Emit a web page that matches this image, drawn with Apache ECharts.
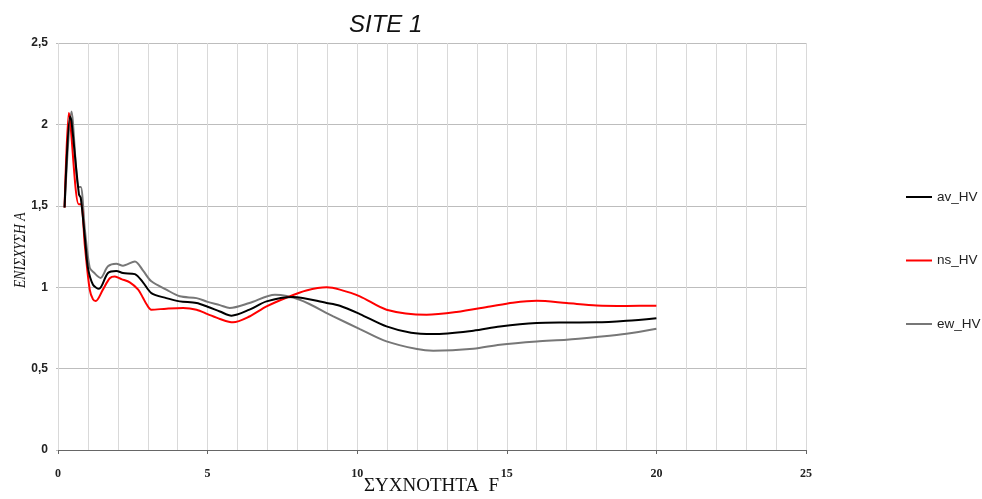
<!DOCTYPE html>
<html>
<head>
<meta charset="utf-8">
<script src="https://cdn.jsdelivr.net/npm/echarts@6/dist/echarts.min.js"></script>
<style>
  html, body { margin: 0; padding: 0; background: #fff; }
  #chart { width: 982px; height: 499px; }
</style>
</head>
<body>
<div id="chart"></div>
<script>
// H/V spectral ratio curves, frequency (Hz) vs amplification
const avFreq = [0.22, 0.40, 0.45, 0.70, 0.76, 0.90, 1.00, 1.17, 1.37, 1.67, 1.95, 2.17, 2.57, 2.84, 3.12, 3.62, 4.07, 4.63, 5.00, 5.41, 5.80, 6.40, 6.97, 7.86, 8.98, 9.42, 10.09, 10.98, 11.80, 12.54, 13.88, 14.77, 16.00, 17.00, 18.00, 19.00, 20.00];
const avVal  = [1.49, 2.05, 2.02, 1.57, 1.55, 1.30, 1.12, 1.015, 0.99, 1.087, 1.10, 1.087, 1.08, 1.03, 0.964, 0.933, 0.913, 0.903, 0.88, 0.851, 0.825, 0.862, 0.913, 0.94, 0.903, 0.886, 0.835, 0.759, 0.72, 0.712, 0.733, 0.759, 0.78, 0.783, 0.784, 0.794, 0.81];

const nsFreq = [0.22, 0.36, 0.40, 0.69, 0.77, 0.90, 1.06, 1.17, 1.26, 1.50, 1.73, 1.90, 2.12, 2.40, 2.68, 2.84, 2.96, 3.12, 3.62, 4.18, 4.63, 5.00, 5.41, 5.85, 6.40, 6.97, 7.69, 8.30, 8.98, 9.42, 10.09, 10.98, 12.32, 13.32, 14.44, 15.20, 16.00, 17.00, 18.00, 19.00, 20.00];
const nsVal  = [1.49, 2.07, 2.03, 1.51, 1.51, 1.25, 0.985, 0.925, 0.915, 0.985, 1.055, 1.066, 1.05, 1.03, 0.985, 0.935, 0.895, 0.862, 0.868, 0.872, 0.862, 0.835, 0.805, 0.784, 0.82, 0.882, 0.94, 0.98, 0.999, 0.985, 0.944, 0.862, 0.831, 0.848, 0.882, 0.905, 0.917, 0.903, 0.888, 0.885, 0.886];

const ewFreq = [0.22, 0.45, 0.69, 0.76, 0.90, 1.06, 1.20, 1.42, 1.67, 1.95, 2.17, 2.57, 2.85, 3.12, 3.62, 4.07, 4.63, 5.00, 5.41, 5.74, 6.40, 7.25, 8.08, 9.20, 10.09, 10.98, 12.00, 12.54, 13.88, 14.77, 16.00, 17.00, 18.00, 19.00, 20.00];
const ewVal  = [1.49, 2.08, 1.615, 1.615, 1.35, 1.12, 1.09, 1.057, 1.128, 1.144, 1.132, 1.158, 1.10, 1.036, 0.985, 0.944, 0.933, 0.91, 0.89, 0.872, 0.903, 0.954, 0.923, 0.821, 0.743, 0.667, 0.62, 0.61, 0.622, 0.647, 0.667, 0.677, 0.694, 0.714, 0.745];

const seriesNames = ['av_HV', 'ns_HV', 'ew_HV'];
const seriesColors = ['#000000', '#ff0000', '#777777'];

const xTicks = [0, 5, 10, 15, 20, 25];
const yTicks = ['0', '0,5', '1', '1,5', '2', '2,5'];

const titleText = 'SITE 1';
const xName = 'ΣΥΧΝΟΤΗΤΑ  F';
const yName = 'ΕΝΙΣΧΥΣΗ Α';

function pairs(xs, ys) {
  return xs.map((x, i) => [x, ys[i]]);
}
const curves = [pairs(avFreq, avVal), pairs(nsFreq, nsVal), pairs(ewFreq, ewVal)];

const chart = echarts.init(document.getElementById('chart'), null, { renderer: 'canvas' });

chart.setOption({
  backgroundColor: '#ffffff',
  animation: false,
  title: {
    text: titleText,
    left: 349,
    top: 13,
    padding: 0,
    textStyle: {
      fontFamily: 'Liberation Sans, Arial, sans-serif',
      fontSize: 24,
      fontStyle: 'italic',
      fontWeight: 'normal',
      color: '#111'
    }
  },
  grid: { left: 58, right: 176, top: 43, bottom: 49 },
  legend: {
    orient: 'vertical',
    left: 906,
    top: 190,
    padding: 0,
    itemGap: 49.5,
    itemWidth: 26,
    itemHeight: 2,
    icon: 'rect',
    textStyle: {
      fontFamily: 'Liberation Sans, Arial, sans-serif',
      fontSize: 13.5,
      color: '#222'
    },
    data: seriesNames
  },
  xAxis: {
    type: 'value',
    min: xTicks[0],
    max: xTicks[xTicks.length - 1],
    interval: 5,
    axisLine: { show: true, lineStyle: { color: '#666', width: 1 } },
    axisTick: { show: true, length: 4, lineStyle: { color: '#666' } },
    axisLabel: {
      margin: 18,
      fontFamily: 'Liberation Serif, DejaVu Serif, serif',
      fontWeight: 'bold',
      fontSize: 12,
      color: '#222',
      formatter: (v) => String(v)
    },
    splitLine: { show: true, lineStyle: { color: '#d9d9d9', width: 1 } },
    minorTick: { show: false, splitNumber: 5 },
    minorSplitLine: { show: true, lineStyle: { color: '#d9d9d9', width: 1 } }
  },
  yAxis: {
    type: 'value',
    min: 0,
    max: 2.5,
    interval: 0.5,
    axisLine: { show: false },
    axisTick: { show: true, length: 2, lineStyle: { color: '#bbb' } },
    axisLabel: {
      margin: 10,
      fontFamily: 'Liberation Sans, Arial, sans-serif',
      fontWeight: 'bold',
      fontSize: 12,
      color: '#222',
      formatter: (v) => yTicks[Math.round(v / 0.5)]
    },
    splitLine: { show: true, lineStyle: { color: '#bdbdbd', width: 1 } }
  },
  series: seriesNames.map((name, i) => ({
    name: name,
    type: 'line',
    data: curves[i],
    smooth: 0.3,
    symbol: 'none',
    z: 3 - i,
    lineStyle: { color: seriesColors[i], width: 2 },
    itemStyle: { color: seriesColors[i] }
  })),
  graphic: [
    {
      type: 'text',
      left: 364,
      top: 477,
      style: {
        text: xName,
        fontFamily: 'Liberation Serif, Times New Roman, serif',
        fontSize: 19,
        fill: '#111'
      }
    },
    {
      type: 'text',
      x: 12,
      y: 288,
      rotation: Math.PI / 2,
      scaleX: 0.8,
      style: {
        text: yName,
        fontFamily: 'Liberation Serif, Times New Roman, serif',
        fontSize: 17,
        fontStyle: 'italic',
        fill: '#111',
        textVerticalAlign: 'top'
      }
    }
  ]
});
</script>
</body>
</html>
